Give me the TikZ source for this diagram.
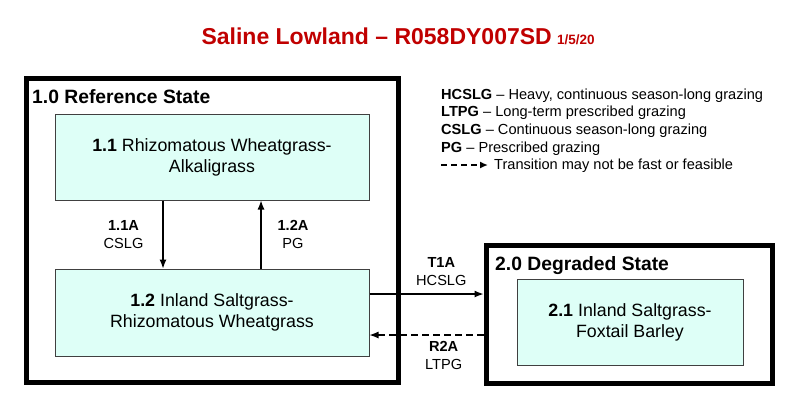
\documentclass[tikz,border=0pt]{standalone}
\usepackage{fontspec}
\setmainfont{Liberation Sans}
\usetikzlibrary{positioning, arrows.meta}
\definecolor{titlered}{RGB}{192,0,0}
\definecolor{commfill}{RGB}{222,255,247}
\tikzset{
	statebox/.style={draw, line width=5pt, inner sep=0pt},
	commbox/.style={draw=black!75, line width=1pt, fill=commfill, align=center, font=\fontsize{17.8}{21}\selectfont, inner sep=0pt},
	statelabel/.style={anchor=base west, inner sep=0pt, font=\fontsize{19.3}{21}\selectfont\bfseries},
	trans/.style={line width=1.2pt, -{Latex[length=9pt, width=7pt]}},
	translabel/.style={align=center, inner sep=0pt, font=\fontsize{14.6}{17.5}\selectfont},
	legendtext/.style={anchor=base west, inner sep=0pt, font=\fontsize{14.6}{17}\selectfont}
}

\begin{document}
\begin{tikzpicture}[x=1pt, y=-1pt]
	\useasboundingbox (0,0) rectangle (800,413);

	\node[anchor=base east, inner sep=0pt, text=titlered, font=\fontsize{23}{28}\selectfont\bfseries] (title) at (552,44) {Saline Lowland – R058DY007SD};
	\node[anchor=base west, inner sep=0pt, text=titlered, font=\fontsize{13.5}{15}\selectfont\bfseries] (date) at ([xshift=5pt]title.base east) {1/5/20};

	\node[statebox, minimum width=372pt, minimum height=304pt] (ref) at (212,230) {};
	\node[statelabel] (reflabel) at (32,103) {1.0 Reference State};
	\node[commbox, minimum width=314pt, minimum height=86pt] (c11) at (212,157) {\textbf{1.1} Rhizomatous Wheatgrass-\\Alkaligrass};
	\node[commbox, minimum width=314pt, minimum height=87pt] (c12) at (212,312.5) {\textbf{1.2} Inland Saltgrass-\\Rhizomatous Wheatgrass};

	\node[statebox, minimum width=286pt, minimum height=138pt] (deg) at (629,314) {};
	\node[statelabel] (deglabel) at (495,270) {2.0 Degraded State};
	\node[commbox, minimum width=226pt, minimum height=86pt] (c21) at (630,322) {\textbf{2.1} Inland Saltgrass-\\Foxtail Barley};

	\draw[trans] ([xshift=-49pt]c11.south) -- ([xshift=-49pt]c12.north) node[translabel, midway, left=19pt] {\textbf{1.1A}\\CSLG};
	\draw[trans] ([xshift=49pt]c12.north) -- ([xshift=49pt]c11.south) node[translabel, midway, right=16pt] {\textbf{1.2A}\\PG};

	\coordinate (t1a) at ([yshift=18.5pt]c12.east);
	\draw[trans] (t1a) -- (t1a -| deg.west) node[translabel, pos=0.63, above=8pt] {\textbf{T1A}\\HCSLG};
	\coordinate (r2a) at ([yshift=-22.5pt]c12.east);
	\draw[trans, dash pattern=on 7pt off 4pt] (r2a -| deg.west) -- (r2a) node[translabel, pos=0.35, below=6pt] {\textbf{R2A}\\LTPG};

	\node[legendtext] (lg1) at (441,99) {\textbf{HCSLG} – Heavy, continuous season-long grazing};
	\node[legendtext] (lg2) at (441,116.7) {\textbf{LTPG} – Long-term prescribed grazing};
	\node[legendtext] (lg3) at (441,134.4) {\textbf{CSLG} – Continuous season-long grazing};
	\node[legendtext] (lg4) at (441,152.1) {\textbf{PG} – Prescribed grazing};
	\node[legendtext] (lg5) at (494,169.8) {Transition may not be fast or feasible};
	\coordinate (lgdash) at (441,165);
	\draw[line width=1.8pt, dash pattern=on 6pt off 4pt, -{Latex[length=8pt, width=7pt]}] (lgdash) -- (lgdash -| 488,0);
\end{tikzpicture}
\end{document}
